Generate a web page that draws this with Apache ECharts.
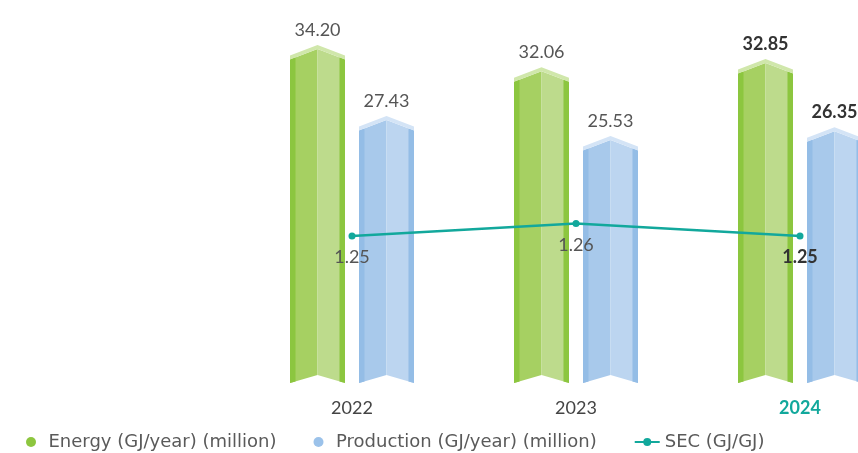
<!DOCTYPE html>
<html><head><meta charset="utf-8">
<script src="https://cdn.jsdelivr.net/npm/echarts@6/dist/echarts.min.js"></script>
<style>html,body{margin:0;padding:0;background:#fff}#c{width:858px;height:453px}</style>
</head><body><div id="c"></div>
<script>
const categories = ['2022', '2023', '2024'];
const energy = [34.20, 32.06, 32.85];
const production = [27.43, 25.53, 26.35];
const sec = [1.25, 1.26, 1.25];
const highlightIndex = 2;
const seriesNames = ['Energy (GJ/year) (million)', 'Production (GJ/year) (million)', 'SEC (GJ/GJ)'];

const FONT = 'Lato';
const LEGEND_FONT = 'DejaVu Sans';
const TEAL = '#12a89c';
const greenPal = {edge: '#8cc63f', left: '#a6d062', right: '#bddb8c', cap: '#d0e7ab', main: '#8dc63f'};
const bluePal = {edge: '#94bde6', left: '#a8c9eb', right: '#bcd5f0', cap: '#d4e4f6', main: '#9bc2ea'};
const Y_MIN = 2;

function prism(pal, offsetFrac, widthFrac) {
  return function (params, api) {
    const idx = api.value(0);
    const val = api.value(1);
    const top = api.coord([idx, val]);
    const base = api.coord([idx, Y_MIN]);
    const band = api.size([1, 0])[0];
    const w = band * widthFrac;
    const cx = top[0] + band * offsetFrac;
    const x0 = cx - w / 2, x1 = cx + w / 2;
    const yA = top[1];
    const rise = 10.5;
    const yS = yA + rise;
    const notch = 8;
    const yb = base[1];
    const cap = 4;
    const st = 5.5;
    const sl = rise / (w / 2), nl = notch / (w / 2);
    const hl = idx === highlightIndex;
    const poly = (pts, color) => ({type: 'polygon', shape: {points: pts}, style: {fill: color}});
    return {
      type: 'group',
      children: [
        poly([[x0, yS + cap], [cx, yA + cap], [cx, yb - notch], [x0, yb]], pal.left),
        poly([[cx, yA + cap], [x1, yS + cap], [x1, yb], [cx, yb - notch]], pal.right),
        poly([[x0, yS + cap], [x0 + st, yS + cap - st * sl], [x0 + st, yb - st * nl], [x0, yb]], pal.edge),
        poly([[x1 - st, yS + cap - st * sl], [x1, yS + cap], [x1, yb], [x1 - st, yb - st * nl]], pal.edge),
        poly([[x0, yS], [cx, yA], [x1, yS], [x1, yS + cap], [cx, yA + cap], [x0, yS + cap]], pal.cap),
        {
          type: 'text',
          style: {
            text: val.toFixed(2), x: cx, y: yA - 6,
            align: 'center', verticalAlign: 'bottom',
            fontFamily: FONT, fontSize: 18,
            fontWeight: hl ? 'bold' : 'normal',
            fill: hl ? '#333' : '#555'
          }
        }
      ]
    };
  };
}

const chart = echarts.init(document.getElementById('c'), null, {renderer: 'canvas'});
chart.setOption({
  animation: false,
  backgroundColor: '#fff',
  textStyle: {fontFamily: FONT},
  grid: {left: 240, top: 26, width: 672, height: 357, outerBoundsMode: 'none', containLabel: false},
  legend: {
    left: 21, top: 428,
    itemWidth: 25, itemHeight: 10, itemGap: 37,
    textStyle: {fontFamily: LEGEND_FONT, fontSize: 18, color: '#5a5a5a'},
    data: [
      {name: seriesNames[0], icon: 'circle'},
      {name: seriesNames[1], icon: 'circle'},
      {name: seriesNames[2]}
    ]
  },
  xAxis: {
    type: 'category',
    data: categories.map((c, i) => i === highlightIndex
      ? {value: c, textStyle: {color: TEAL, fontWeight: 'bold'}} : c),
    axisLine: {show: false}, axisTick: {show: false}, splitLine: {show: false},
    axisLabel: {fontFamily: FONT, fontSize: 18, color: '#444', margin: 16}
  },
  yAxis: [
    {type: 'value', min: Y_MIN, max: 36, show: false, splitLine: {show: false}},
    {type: 'value', min: 1.1324, max: 1.418, show: false, splitLine: {show: false}}
  ],
  series: [
    {
      name: seriesNames[0], type: 'custom', renderItem: prism(greenPal, -0.154, 0.2455),
      itemStyle: {color: greenPal.main}, encode: {x: 0, y: 1},
      data: energy.map((v, i) => [i, v]), z: 2
    },
    {
      name: seriesNames[1], type: 'custom', renderItem: prism(bluePal, 0.154, 0.2455),
      itemStyle: {color: bluePal.main}, encode: {x: 0, y: 1},
      data: production.map((v, i) => [i, v]), z: 2
    },
    {
      name: seriesNames[2], type: 'line', yAxisIndex: 1, z: 5,
      symbol: 'circle', symbolSize: 7,
      itemStyle: {color: TEAL}, lineStyle: {color: TEAL, width: 2.5},
      label: {
        show: true, position: 'bottom', distance: 9,
        fontFamily: FONT, fontSize: 18, color: '#555',
        formatter: p => Number(p.value).toFixed(2)
      },
      data: sec.map((v, i) => i === highlightIndex
        ? {value: v, label: {fontWeight: 'bold', color: '#333'}} : v)
    }
  ]
});
</script>
</body></html>
